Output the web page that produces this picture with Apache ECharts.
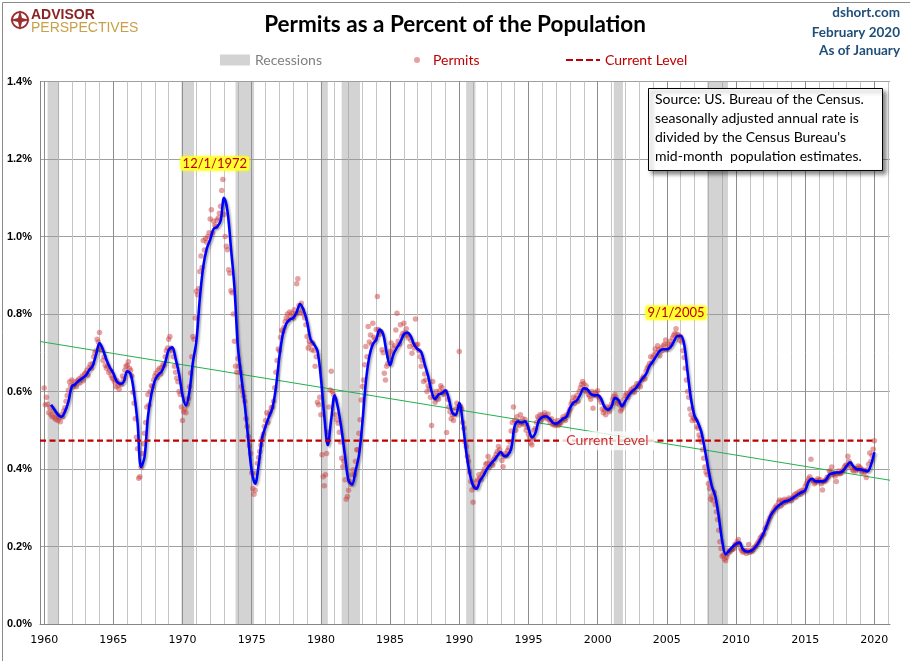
<!DOCTYPE html>
<html><head><meta charset="utf-8">
<script src="https://cdn.jsdelivr.net/npm/echarts@6/dist/echarts.min.js"></script>
<style>html,body{margin:0;padding:0;background:#fff}#c{width:910px;height:661px}</style>
</head><body><div id="c"></div>
<script>
// ---------------- DATA ----------------
// Monthly building permits as a percent of population, in thousandths of a percent (607 = 0.607%)
const startYear = 1960;
const permits1960s = [
609,566,585,567,545,558,540,535,550,532,528,540,
525,532,522,540,535,550,558,575,590,603,625,615,
630,612,618,625,612,628,632,622,635,640,628,645,
648,655,642,662,670,660,672,690,700,705,735,728,
752,712,705,680,690,668,660,665,650,655,642,635,
632,625,612,628,615,606,622,618,640,632,655,665,
668,677,660,655,640,598,570,530,482,452,376,380,
405,440,465,492,520,560,592,565,600,615,612,630,
640,648,636,655,660,645,662,670,668,690,705,712,
735,742,712,705,690,665,650,635,625,600,592,560];
const permits1970s = [
525,548,555,545,568,582,612,648,690,742,735,790,
859,850,865,910,950,920,990,965,995,985,1000,1010,
1045,1069,1010,1040,1030,1025,1042,1048,1060,1078,1119,1147,
1057,1000,975,966,914,905,860,855,800,730,665,650,
685,665,650,612,600,588,575,530,510,484,460,440,
390,350,335,345,390,415,430,445,462,480,490,510,
525,545,520,540,548,558,560,575,610,650,680,710,
705,740,758,755,765,780,790,800,785,805,795,802,
790,811,800,878,891,822,802,828,810,800,790,772,
742,712,730,722,708,725,705,665,690,572,566,585];
const permits1980s = [
540,437,380,357,385,440,495,560,604,652,600,592,
580,540,527,518,495,470,428,406,420,372,322,329,
345,368,360,385,398,385,420,450,450,492,527,578,
613,630,669,716,690,768,728,746,722,776,740,735,
760,845,760,748,755,708,700,647,630,665,672,690,
703,725,700,712,718,759,802,730,722,772,742,750,
776,752,762,745,738,716,732,699,722,712,787,720,
722,705,690,665,680,626,645,630,600,615,608,585,
512,626,585,572,600,590,580,602,615,610,598,592,
600,494,580,560,548,530,540,525,540,555,570,560];
const permits1990s = [
703,561,555,520,505,470,458,432,420,392,368,346,
314,352,355,368,372,385,378,372,388,392,400,412,
415,432,405,420,415,410,425,430,438,445,458,450,
440,422,406,432,440,435,448,455,470,498,520,560,
525,500,535,522,512,540,518,530,515,528,500,508,
490,480,467,462,478,500,505,520,535,530,540,525,
540,535,545,538,530,542,528,520,530,515,522,512,
515,525,512,520,518,528,535,530,525,540,538,548,
555,568,575,585,570,582,590,575,600,610,618,626,
620,602,615,600,592,588,580,600,557,590,598,595];
const permits2000s = [
602,585,580,572,555,545,552,540,560,555,548,560,
568,580,587,592,585,570,575,565,550,555,565,580,
590,595,585,592,598,605,600,610,598,612,620,615,
622,612,630,635,640,632,652,660,665,672,690,675,
688,695,710,700,718,708,692,712,705,718,722,733,
708,722,715,730,722,738,745,750,762,748,745,732,
742,728,705,688,660,630,600,585,555,540,525,532,
530,525,510,505,488,480,470,450,428,405,392,385,
362,350,322,330,318,340,308,290,270,242,212,195,
175,178,168,163,172,182,190,188,192,192,195,205];
const permits2010s = [
205,212,218,208,195,190,185,188,190,182,190,205,
185,190,188,192,198,200,205,210,215,222,225,230,
232,245,250,258,265,272,278,285,290,295,300,305,
302,315,320,305,318,312,322,315,320,318,325,322,
318,325,330,335,328,338,335,342,335,345,340,345,
355,362,368,375,380,425,372,370,362,365,370,375,
370,372,362,346,368,370,372,378,380,395,390,405,
385,390,382,368,388,395,388,390,395,398,405,410,
410,433,420,415,405,398,395,402,395,400,408,405,
402,392,398,390,395,378,398,412,441,420,435,451];
const permits2020s = [473];

const avgStart = 1960.5;
const avg1960s = [566,553, 540,535,548,573, 613,619,628,634, 641,655,666,695, 725,708,682,662, 647,626,620,625, 652,645,595,520, 405,430,535,593, 628,643,652,675, 707,714,685,645];
const avg1970s = [590,564,600,675, 730,840,923,968, 992,1020,1025,1040, 1100,1065,970,870, 717,637,565,478, 395,362,410,480, 510,535,558,610, 690,748,775,786, 790,805,826,810, 780,735,722,705];
const avg1980s = [635,535,462,530, 590,555,500,432, 370,360,395,435, 520,625,690,722, 734,760,748,700, 668,697,713,728, 748,752,742,720, 709,702,670,640, 600,580,592,596, 603,580,545,540];
const avg1990s = [570,520,445,390, 357,349,370,383, 400,412,422,434, 444,433,436,452, 510,523,520,523, 505,482,493,525, 534,536,531,520, 517,522,530,535, 557,571,577,592, 608,606,594,590];
const avg2000s = [591,581,560,553, 561,583,578,562, 575,590,601,608, 621,634,645,666, 678,692,705,709, 709,714,728,743, 744,722,650,580, 538,520,495,450, 400,356,330,278, 215,180,189,199];
const avg2010s = [207,210,193,187, 188,193,203,218, 235,257,280,293, 303,310,316,318, 323,329,335,340, 345,368,375,368, 368,368,372,386, 389,391,391,396, 408,417,406,399, 399,397,394,410];
const avg2020s = [443];

// Linear trend line (percent) at the left and right edges of the plot
const trendValues = [0.729, 0.371];

// NBER recessions [start, end] in fractional years
const recessions = [[1960.25,1961.08],[1969.92,1970.83],[1973.83,1975.17],[1980.0,1980.5],
                    [1981.5,1982.83],[1990.5,1991.17],[2001.17,2001.83],[2007.92,2009.42]];

// Axis labels / ticks
const xLabelYears = [1960,1965,1970,1975,1980,1985,1990,1995,2000,2005,2010,2015,2020];
const firstGridYear = 1960, lastGridYear = 2021;
const xMin = 1959.7, xMax = 2021.13;

// Annotated peaks
const peakNotes = [{text:'12/1/1972', year:1972, month:12, offset:[-8,-16]},
                   {text:'9/1/2005',  year:2005, month:9,  offset:[0,-16]}];
const currentLabelYear = 2000.7;

const sourceLines = ['Source: US. Bureau of the Census.',
                     'seasonally adjusted annual rate is',
                     "divided by the Census Bureau's",
                     'mid-month  population estimates.'];

// ---------------- BUILD ----------------
const permits = [].concat(permits1960s, permits1970s, permits1980s, permits1990s, permits2000s, permits2010s, permits2020s);
const permitPoints = permits.map((v, i) => [startYear + i / 12, v / 1000]);
const avg = [].concat(avg1960s, avg1970s, avg1980s, avg1990s, avg2000s, avg2010s, avg2020s);
const avgPoints = avg.map((v, i) => [avgStart + i * 0.25, v / 1000]);
const lastPoint = permitPoints[permitPoints.length - 1];
const currentLevel = lastPoint[1];
const yearTicks = [];
for (let y = firstGridYear; y <= lastGridYear; y++) yearTicks.push(y);

const peakMarks = peakNotes.map(p => {
  const idx = (p.year - startYear) * 12 + (p.month - 1);
  return {coord: permitPoints[idx], value: p.text,
          label: {offset: p.offset, formatter: p.text}};
});

const FONT = 'Lato, "Open Sans", sans-serif';
const dashIcon = 'path://M0,0h7v2h-7z M10,0h7v2h-7z M20,0h7v2h-7z M30,0h4v2h-4z';

const chart = echarts.init(document.getElementById('c'), null, {renderer: 'canvas'});
chart.setOption({
  animation: false,
  backgroundColor: '#ffffff',
  grid: {left: 40, right: 20, top: 81.5, bottom: 37, outerBoundsMode: 'none'},
  legend: [
    {data: [{name: 'Recessions', icon: 'rect'}], left: 215, top: 48, itemWidth: 30, itemHeight: 11,
     textStyle: {color: '#808080', fontSize: 14, fontFamily: FONT}, selectedMode: false},
    {data: [{name: 'Permits', icon: 'circle'}], left: 409, top: 48, itemWidth: 22, itemHeight: 6,
     textStyle: {color: '#C00000', fontSize: 14, fontFamily: FONT}, selectedMode: false},
    {data: [{name: 'Current Level', icon: dashIcon}], left: 561, top: 48, itemWidth: 34, itemHeight: 2.4,
     itemStyle: {color: '#C00000'},
     textStyle: {color: '#C00000', fontSize: 14, fontFamily: FONT}, selectedMode: false}
  ],
  xAxis: {
    type: 'value', min: xMin, max: xMax,
    axisLine: {show: true, lineStyle: {color: '#868686', width: 1}},
    axisTick: {show: false, customValues: yearTicks},
    axisLabel: {customValues: xLabelYears, color: '#000', fontSize: 11, fontFamily: '"DejaVu Sans", sans-serif',
                margin: 11, formatter: v => String(Math.round(v))},
    splitLine: {show: true, lineStyle: {color: ['#8c8c8c', '#c4c4c4', '#c4c4c4', '#c4c4c4', '#c4c4c4'], width: 1}}
  },
  yAxis: {
    type: 'value', min: 0, max: 1.4, interval: 0.2,
    axisLine: {show: true, lineStyle: {color: '#868686', width: 1}},
    axisTick: {show: false},
    axisLabel: {formatter: v => v.toFixed(1) + '%', color: '#000', fontWeight: 'bold', fontSize: 11,
                fontFamily: '"Liberation Sans", Arial, sans-serif', margin: 8},
    splitLine: {show: true, lineStyle: {color: '#a0a0a0', width: 1}}
  },
  series: [
    {
      name: 'Recessions', type: 'line', data: [], silent: true,
      itemStyle: {color: '#d3d3d3'}, lineStyle: {color: '#d3d3d3'},
      markArea: {silent: true, itemStyle: {color: 'rgba(150,150,150,0.42)'},
                 data: recessions.map(r => [{xAxis: r[0]}, {xAxis: r[1]}])},
      z: 1
    },
    {
      name: 'Trend', type: 'line', silent: true, symbol: 'none',
      data: [[xMin, trendValues[0]], [xMax, trendValues[1]]],
      lineStyle: {color: '#22B14C', width: 1}, z: 2
    },
    {
      name: 'Permits', type: 'scatter', data: permitPoints, symbolSize: 5.5, silent: true,
      itemStyle: {color: 'rgba(200,60,60,0.6)'}, z: 3,
      markPoint: {
        silent: true, symbol: 'circle', symbolSize: 1, itemStyle: {color: 'rgba(0,0,0,0)'},
        label: {show: true, position: 'inside', color: '#C00000', fontSize: 13, fontFamily: FONT,
                backgroundColor: '#FFFF33', padding: [1, 2, 0, 2], borderRadius: 2,
                shadowColor: 'rgba(255,255,0,0.9)', shadowBlur: 3},
        data: peakMarks
      }
    },
    {
      name: 'Average', type: 'line', data: avgPoints, symbol: 'none', smooth: 0.35, silent: true,
      lineStyle: {color: '#0000FF', width: 2.6, shadowColor: 'rgba(0,0,0,0.35)', shadowBlur: 2,
                  shadowOffsetX: 1.5, shadowOffsetY: 1.5}, z: 4
    },
    {
      name: 'Current Level', type: 'line', symbol: 'none', silent: true,
      data: [[xMin, currentLevel], [lastPoint[0], currentLevel]],
      itemStyle: {color: '#C00000'},
      lineStyle: {color: '#C00000', width: 2.2, type: [6, 3.5]}, z: 5
    },
    {
      name: 'CurrentLabel', type: 'scatter', silent: true, symbolSize: 0, z: 10,
      data: [[currentLabelYear, currentLevel]],
      label: {show: true, position: 'inside', formatter: 'Current Level', color: '#C00000',
              fontSize: 14, fontFamily: FONT, backgroundColor: '#ffffff', padding: [3, 6, 2, 6]}
    }
  ],
  graphic: [
    {type: 'rect', left: 0, top: 0, shape: {x: 0.5, y: 0.5, width: 909, height: 660},
     style: {fill: 'none', stroke: '#8a8a8a', lineWidth: 1}, silent: true, z: 0},
    // logo
    {type: 'circle', shape: {cx: 20, cy: 20, r: 8}, style: {fill: 'none', stroke: '#9B2E2E', lineWidth: 2}, silent: true},
    {type: 'polygon', shape: {points: [[20,10],[22,18],[30,20],[22,22],[20,30],[18,22],[10,20],[18,18]]},
     style: {fill: '#9B2E2E'}, silent: true},
    {type: 'text', left: 31, top: 8, style: {text: 'ADVISOR', fill: '#8B2323', font: 'bold 14px "Liberation Sans Narrow", "Liberation Sans", sans-serif'}, silent: true},
    {type: 'text', left: 31, top: 21, style: {text: 'PERSPECTIVES', fill: '#C9A04A', font: '14px "Liberation Sans Narrow", "Liberation Sans", sans-serif'}, silent: true},
    // title
    {type: 'text', left: 'center', top: 13, style: {text: 'Permits as a Percent of the Population', fill: '#000',
     font: 'bold 22.5px ' + FONT}, silent: true},
    // top right
    {type: 'text', right: 10, top: 6, style: {text: 'dshort.com', fill: '#1F4E79', font: 'bold 13.5px ' + FONT, align: 'right'}, silent: true},
    {type: 'text', right: 10, top: 26, style: {text: 'February 2020', fill: '#1F4E79', font: 'bold 13.5px ' + FONT, align: 'right'}, silent: true},
    {type: 'text', right: 10, top: 44, style: {text: 'As of January', fill: '#1F4E79', font: 'bold 13.5px ' + FONT, align: 'right'}, silent: true},
    // source box
    {type: 'rect', left: 648, top: 88, z: 100, shape: {x: 0, y: 0, width: 234, height: 82},
     style: {fill: '#fff', stroke: '#000', lineWidth: 1, shadowColor: 'rgba(0,0,0,0.45)', shadowBlur: 4,
             shadowOffsetX: 3, shadowOffsetY: 3}, silent: true},
    ...sourceLines.map((t, i) => ({type: 'text', left: 655, top: 92 + i * 19, z: 101, silent: true,
        style: {text: t, fill: '#000', font: '14px ' + FONT}}))
  ]
});
</script></body></html>
